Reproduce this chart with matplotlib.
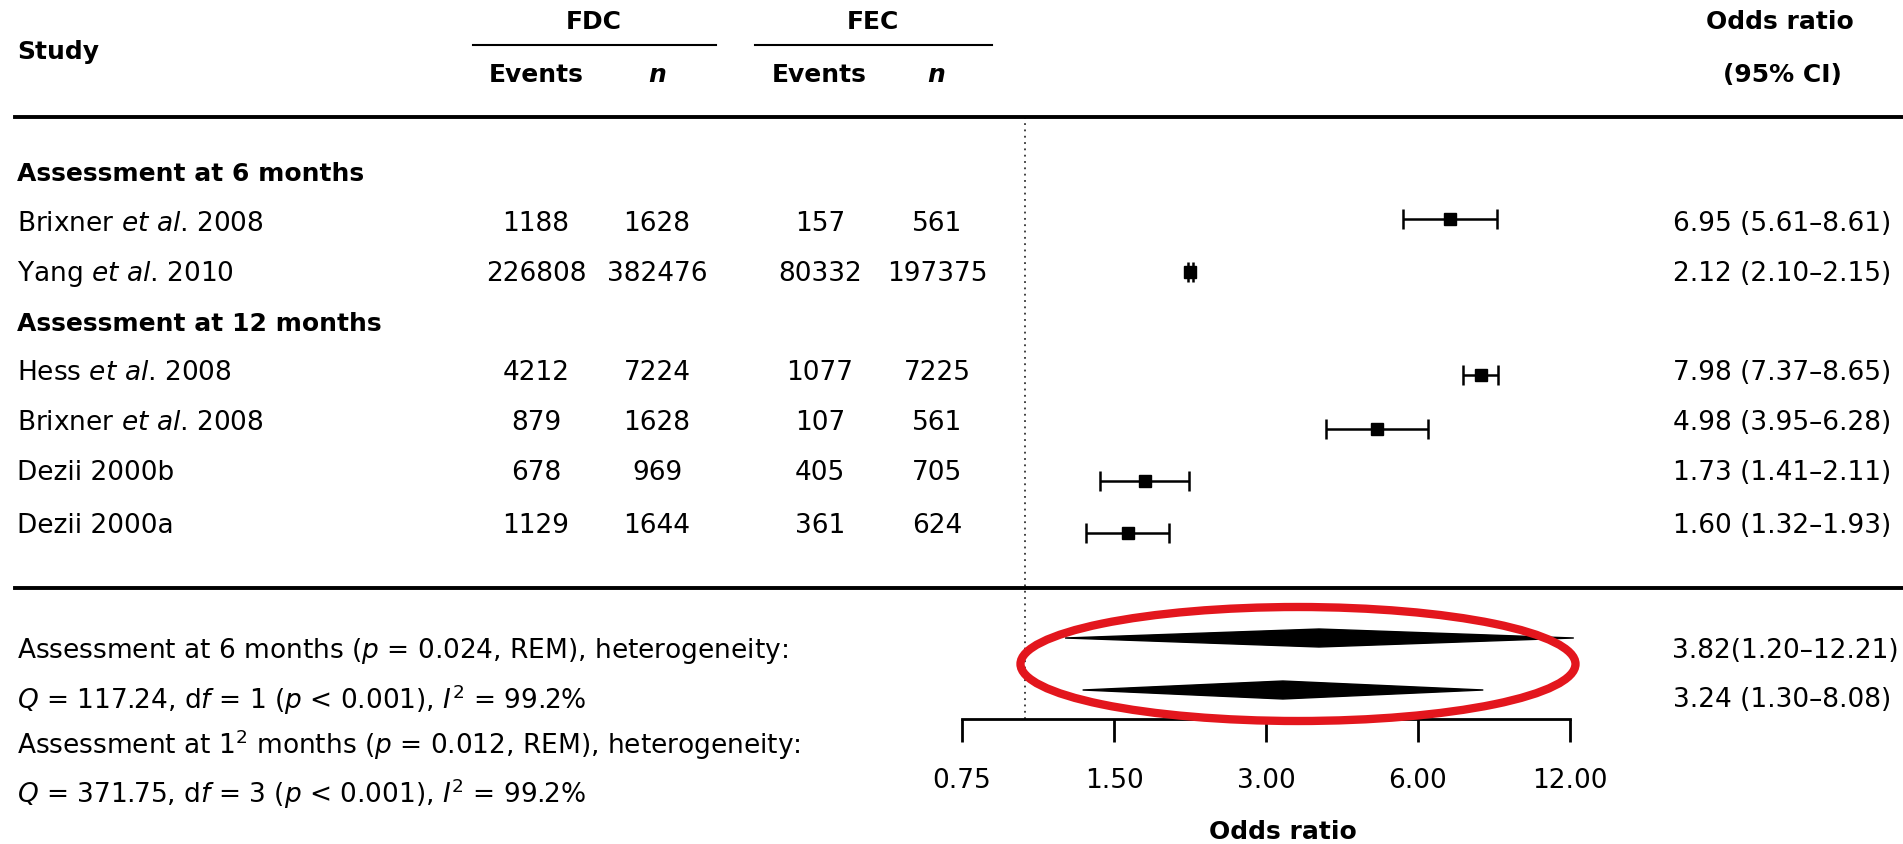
import matplotlib
matplotlib.use("Agg")
import matplotlib.pyplot as plt
from matplotlib.patches import Ellipse, Polygon

FONT = "DejaVu Sans"
plt.rcParams["font.family"] = [FONT]
plt.rcParams["mathtext.fontset"] = "custom"
plt.rcParams["mathtext.rm"] = FONT
plt.rcParams["mathtext.it"] = FONT + ":italic"
plt.rcParams["mathtext.bf"] = FONT + ":bold"

# data
studies = ["Brixner $\\mathit{et\\ al}$. 2008", "Yang $\\mathit{et\\ al}$. 2010",
           "Hess $\\mathit{et\\ al}$. 2008", "Brixner $\\mathit{et\\ al}$. 2008",
           "Dezii 2000b", "Dezii 2000a"]
fdc_events = [1188, 226808, 4212, 879, 678, 1129]
fdc_n = [1628, 382476, 7224, 1628, 969, 1644]
fec_events = [157, 80332, 1077, 107, 405, 361]
fec_n = [561, 197375, 7225, 561, 705, 624]
or_est = [6.95, 2.12, 7.98, 4.98, 1.73, 1.60]
or_lo = [5.61, 2.10, 7.37, 3.95, 1.41, 1.32]
or_hi = [8.61, 2.15, 8.65, 6.28, 2.11, 1.93]

pooled_est = [3.82, 3.24]
pooled_lo = [1.20, 1.30]
pooled_hi = [12.21, 8.08]
pooled_txt = ["3.82(1.20\u201312.21)", "3.24 (1.30\u20138.08)"]

x_ticks = [0.75, 1.5, 3.0, 6.0, 12.0]
x_ticklabels = ["0.75", "1.50", "3.00", "6.00", "12.00"]

footnotes = [
    "Assessment at 6 months ($p$ = 0.024, REM), heterogeneity:",
    "$Q$ = 117.24, d$f$ = 1 ($p$ < 0.001), $I^2$ = 99.2%",
    "Assessment at 1$^2$ months ($p$ = 0.012, REM), heterogeneity:",
    "$Q$ = 371.75, d$f$ = 3 ($p$ < 0.001), $I^2$ = 99.2%",
]

# layout (figure pixels, y from top)
W, H = 1903, 845
row_y = [224, 274, 373, 423, 473, 526]
mark_y = [220, 273, 376, 430, 482, 534]
pool_y = [639, 691]
pool_txt_x = [1899, 1891]
pool_txt_y = [651, 700]
foot_y = [651, 700, 745, 794]
FS = 19
FB = 18

fig = plt.figure(figsize=(W / 100, H / 100), dpi=100)

# forest panel on a log scale
ax_or = fig.add_axes([962 / W, (H - 720) / H, (1570 - 962) / W, (720 - 118) / H])
ax_or.set_facecolor("none")
ax_or.set_xscale("log")
ax_or.set_xlim(0.75, 12)
ax_or.set_ylim(720, 118)
for s in ["top", "left", "right"]:
    ax_or.spines[s].set_visible(False)
ax_or.spines["bottom"].set_linewidth(2)
ax_or.set_xticks(x_ticks)
ax_or.set_xticklabels(x_ticklabels, fontsize=FS)
ax_or.minorticks_off()
ax_or.tick_params(axis="x", direction="out", length=16.5, width=2, pad=18)
ax_or.set_yticks([])

ax_or.axvline(1.0, color="#333333", lw=1.3, ls=(0, (1, 2.5)))

xerr = [[e - l for e, l in zip(or_est, or_lo)], [h - e for e, h in zip(or_est, or_hi)]]
ax_or.errorbar(or_est, mark_y, xerr=xerr, fmt="s", color="black", ms=9,
               elinewidth=1.8, capsize=7.5, capthick=1.8, clip_on=False)

for e, l, h, y in zip(pooled_est, pooled_lo, pooled_hi, pool_y):
    ax_or.add_patch(Polygon([(l, y), (e, y - 9), (h, y), (e, y + 9)],
                            closed=True, color="black", clip_on=False))

# text table on a pixel-coordinate overlay
ax = fig.add_axes([0, 0, 1, 1], zorder=3)
ax.set_facecolor("none")
ax.set_xlim(0, W)
ax.set_ylim(H, 0)
ax.axis("off")

ax.text(17, 52, "Study", fontsize=FB, weight="bold", va="center")
ax.text(594, 22, "FDC", fontsize=FB, weight="bold", ha="center", va="center")
ax.text(873, 22, "FEC", fontsize=FB, weight="bold", ha="center", va="center")
ax.plot([473, 716], [46, 46], color="black", lw=1.5)
ax.plot([755, 992], [46, 46], color="black", lw=1.5)
for x, t in [(536, "Events"), (819, "Events")]:
    ax.text(x, 75, t, fontsize=FB, weight="bold", ha="center", va="center")
for x in [657, 936]:
    ax.text(x, 75, "n", fontsize=FB, weight="bold", style="italic",
            ha="center", va="center")
ax.text(1780, 22, "Odds ratio", fontsize=FB, weight="bold", ha="center", va="center")
ax.text(1782, 75, "(95% CI)", fontsize=FB, weight="bold", ha="center", va="center")

ax.plot([15, W], [118, 118], color="black", lw=2.8)
ax.plot([15, W], [589, 589], color="black", lw=2.8)

ax.text(17, 174, "Assessment at 6 months", fontsize=FB, weight="bold", va="center")
ax.text(17, 324, "Assessment at 12 months", fontsize=FB, weight="bold", va="center")

for i, y in enumerate(row_y):
    ax.text(17, y, studies[i], fontsize=FS, va="center")
    ax.text(536, y, str(fdc_events[i]), fontsize=FS, ha="center", va="center")
    ax.text(657, y, str(fdc_n[i]), fontsize=FS, ha="center", va="center")
    ax.text(820, y, str(fec_events[i]), fontsize=FS, ha="center", va="center")
    ax.text(937, y, str(fec_n[i]), fontsize=FS, ha="center", va="center")
    ax.text(1891, y, f"{or_est[i]:.2f} ({or_lo[i]:.2f}\u2013{or_hi[i]:.2f})",
            fontsize=FS, ha="right", va="center")

for t, x, y in zip(pooled_txt, pool_txt_x, pool_txt_y):
    ax.text(x, y, t, fontsize=FS, ha="right", va="center")

for t, y in zip(footnotes, foot_y):
    ax.text(17, y, t, fontsize=FS, va="center")

ax.text(1283, 832, "Odds ratio", fontsize=FB, weight="bold", ha="center", va="center")

ax.add_patch(Ellipse((1298, 665), 555, 114, fill=False, ec="#e3161d", lw=6))

fig.savefig("out.png", dpi=100)
